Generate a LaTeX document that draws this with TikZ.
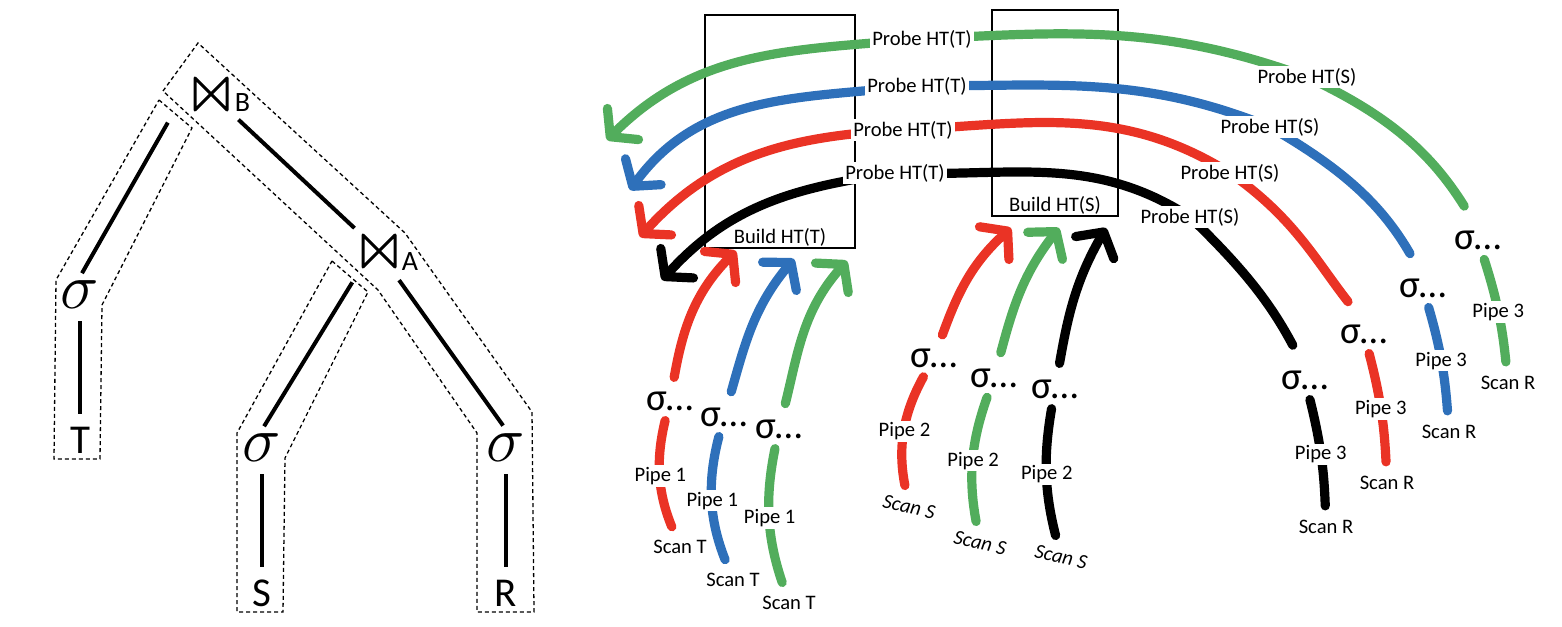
\documentclass[tikz,border=0pt]{standalone}
\usepackage{fontspec}
\usepackage{graphicx}
\setmainfont{Carlito}
\usetikzlibrary{arrows.meta}

\definecolor{pred}{RGB}{234,51,37}
\definecolor{pblue}{RGB}{46,112,186}
\definecolor{pgreen}{RGB}{82,173,92}

\tikzset{
  lbl/.style={font=\fontsize{10.3}{12}\selectfont, inner sep=1pt},
  lblw/.style={lbl, fill=white, text=black},
  scans/.style={lbl, font=\fontsize{10.3}{12}\selectfont\itshape, rotate=-12},
  sig/.style={font=\fontsize{19.5}{20}\selectfont, inner sep=1pt},
  pline/.style={line width=4.6pt, line cap=round},
  ptip/.style={-{Straight Barb[length=9pt,width=22pt,round]}},
  htbox/.style={draw, line width=1pt},
  tnode/.style={font=\fontsize{20.5}{22}\selectfont, inner sep=2pt},
  tsig/.style={font=\fontsize{24.88}{26}\selectfont, inner sep=2pt},
  tsub/.style={font=\fontsize{14}{15}\selectfont, inner sep=0pt, anchor=south west},
  joinop/.style={minimum width=19pt, minimum height=19pt, inner sep=0pt,
    path picture={\draw[line width=1.5pt, line join=round]
      ([shift={(1.5pt,-1.5pt)}]path picture bounding box.north west) --
      ([shift={(1.5pt,1.5pt)}]path picture bounding box.south west) --
      ([shift={(-1.5pt,-1.5pt)}]path picture bounding box.north east) --
      ([shift={(-1.5pt,1.5pt)}]path picture bounding box.south east) -- cycle;}},
  tedge/.style={line width=2pt},
  pipebox/.style={line width=0.65pt, dash pattern=on 2pt off 1.5pt},
}

\begin{document}
\begin{tikzpicture}[x=0.5pt, y=0.5pt]
\useasboundingbox (0,0) rectangle (1562,-626);

% query plan with its pipelines
\draw[pipebox] (159,-100) -- (192,-128) -- (102,-305) -- (100,-459) -- (54,-459) -- (56,-280) -- cycle;
\draw[pipebox] (163,-91) -- (198,-43) -- (405,-233) -- (532,-412) -- (534,-612) -- (477,-612) -- (477,-433) -- (378,-290) -- cycle;
\draw[pipebox] (332,-261) -- (368,-292) -- (285,-458) -- (283,-612) -- (237,-612) -- (237,-433) -- cycle;

\node[joinop] (jB) at (211,-94) {};
\node[tsub] (jBs) at ([shift={(4,1)}]jB.south east) {B};
\node[joinop] (jA) at (379,-251) {};
\node[tsub] (jAs) at ([shift={(3,0)}]jA.south east) {A};
\node[tsig] (sT) at (80,-295) {\scalebox{1.3}{$\sigma$}};
\node[tnode] (T) at (80,-440) {T};
\node[tsig] (sS) at (262,-448) {\scalebox{1.3}{$\sigma$}};
\node[tnode] (S) at (262,-593) {S};
\node[tsig] (sR) at (506,-448) {\scalebox{1.3}{$\sigma$}};
\node[tnode] (R) at (506,-593) {R};

\draw[tedge, shorten <=24pt, shorten >=2pt] (jB.146) -- (sT.north);
\draw[tedge, shorten <=5.5pt, shorten >=3.5pt] (jB) -- (jA);
\draw[tedge, shorten <=7pt, shorten >=2pt] (jA.south west) -- (sS.north);
\draw[tedge, shorten <=6pt, shorten >=2.5pt] (jA.304) -- (sR.north);
\draw[tedge, shorten <=4pt, shorten >=4pt] (sT) -- (T);
\draw[tedge, shorten <=4pt, shorten >=4pt] (sS) -- (S);
\draw[tedge, shorten <=4pt, shorten >=4pt] (sR) -- (R);

% hash tables
\node[htbox, minimum width=75pt, minimum height=116.5pt] (bt) at (780,-131.5) {};
\node[lbl, anchor=south] (btl) at (bt.south) {Build HT(T)};
\node[htbox, minimum width=63pt, minimum height=103pt] (bs) at (1055,-113) {};
\node[lbl, anchor=south] (bsl) at (bs.south) {Build HT(S)};

% pipeline 1
\node[sig] (g1r) at (670,-401) {σ…};
\node[sig] (g1b) at (724,-417) {σ…};
\node[sig] (g1g) at (779,-429) {σ…};
\node[lbl] (sc1r) at (680,-547) {Scan T};
\node[lbl] (sc1b) at (733,-580) {Scan T};
\node[lbl] (sc1g) at (789,-603) {Scan T};

% pipeline 2
\node[sig] (g2r) at (934,-358) {σ…};
\node[sig] (g2g) at (994,-378) {σ…};
\node[sig] (g2k) at (1055,-389) {σ…};
\node[scans] (sc2r) at (909,-507) {Scan S};
\node[scans] (sc2g) at (980,-543) {Scan S};
\node[scans] (sc2k) at (1061,-557) {Scan S};

% pipeline 3
\node[sig] (g3k) at (1305,-380) {σ…};
\node[sig] (g3r) at (1364,-334) {σ…};
\node[sig] (g3b) at (1423,-288) {σ…};
\node[sig] (g3g) at (1478,-240) {σ…};
\node[lbl] (sc3k) at (1326,-527) {Scan R};
\node[lbl] (sc3r) at (1387,-483) {Scan R};
\node[lbl] (sc3b) at (1449,-432) {Scan R};
\node[lbl] (sc3g) at (1508,-383) {Scan R};

% scans up to the selections
\draw[pline, pred, shorten <=6pt, shorten >=4pt] (sc1r) to[bend left=18] node[lblw] (p1r) {Pipe 1} (g1r);
\draw[pline, pblue, shorten <=6pt, shorten >=4pt] (sc1b) to[bend left=18] node[lblw] (p1b) {Pipe 1} (g1b);
\draw[pline, pgreen, shorten <=6pt, shorten >=4pt] (sc1g) to[bend left=15] node[lblw] (p1g) {Pipe 1} (g1g);
\draw[pline, pred, shorten <=6pt, shorten >=4pt] (sc2r) to[bend left=20] node[lblw] (p2r) {Pipe 2} (g2r);
\draw[pline, pgreen, shorten <=6pt, shorten >=4pt] (sc2g) to[bend left=15] node[lblw] (p2g) {Pipe 2} (g2g);
\draw[pline, shorten <=6pt, shorten >=4pt] (sc2k) to[bend left=12] node[lblw] (p2k) {Pipe 2} (g2k);
\draw[pline, shorten <=6pt, shorten >=4pt] (sc3k) to[bend right=6] node[lblw] (p3k) {Pipe 3} (g3k);
\draw[pline, pred, shorten <=6pt, shorten >=4pt] (sc3r) to[bend right=6] node[lblw] (p3r) {Pipe 3} (g3r);
\draw[pline, pblue, shorten <=6pt, shorten >=4pt] (sc3b) to[bend right=6] node[lblw] (p3b) {Pipe 3} (g3b);
\draw[pline, pgreen, shorten <=6pt, shorten >=4pt] (sc3g) to[bend right=6] node[lblw] (p3g) {Pipe 3} (g3g);

% build sides
\draw[pline, pred, ptip, shorten <=6pt] (g1r) to[out=80, in=-135] ([xshift=16pt, yshift=-1pt]bt.south west);
\draw[pline, pblue, ptip, shorten <=7pt] (g1b) to[out=74, in=-130] ([xshift=45pt, yshift=-5pt]bt.south west);
\draw[pline, pgreen, ptip, shorten <=7pt] (g1g) to[out=76, in=-132] ([xshift=71.5pt, yshift=-6pt]bt.south west);
\draw[pline, pred, ptip, shorten <=6pt] (g2r) to[out=70, in=-138] ([xshift=10pt, yshift=-5.5pt]bs.south west);
\draw[pline, pgreen, ptip, shorten <=7pt] (g2g) to[out=75, in=-128] ([xshift=34pt, yshift=-5.5pt]bs.south west);
\draw[pline, ptip, shorten <=7pt] (g2k) to[out=80, in=-120] ([xshift=57.5pt, yshift=-5.5pt]bs.south west);

% probe sides
\coordinate (e3k) at (662,-280);
\coordinate (e3r) at (640,-237);
\coordinate (e3b) at (630,-190);
\coordinate (e3g) at (607,-140);
\draw[pline, ptip, shorten <=13pt] (g3k.north)
  to[out=118, in=-44] (1190,-217) node[lblw] (ps3k) {Probe HT(S)}
  to[out=147, in=-2] (895,-173) node[lblw] (pt3k) {Probe HT(T)}
  to[out=188, in=48] (e3k);
\draw[pline, pred, ptip, shorten <=13pt] (g3r.north)
  to[out=128, in=-35] (1230,-173) node[lblw] (ps3r) {Probe HT(S)}
  to[out=148, in=3] (903,-130) node[lblw] (pt3r) {Probe HT(T)}
  to[out=183, in=48] (e3r);
\draw[pline, pblue, ptip, shorten <=13pt] (g3b.north)
  to[out=120, in=-30] (1270,-127) node[lblw] (ps3b) {Probe HT(S)}
  to[out=158, in=0] (917,-86) node[lblw] (pt3b) {Probe HT(T)}
  to[out=186, in=54] (e3b);
\draw[pline, pgreen, ptip, shorten <=13pt] (g3g.north)
  to[out=122, in=-25] (1307,-77) node[lblw] (ps3g) {Probe HT(S)}
  to[out=160, in=3] (922,-39) node[lblw] (pt3g) {Probe HT(T)}
  to[out=185, in=45] (e3g);
\end{tikzpicture}
\end{document}
